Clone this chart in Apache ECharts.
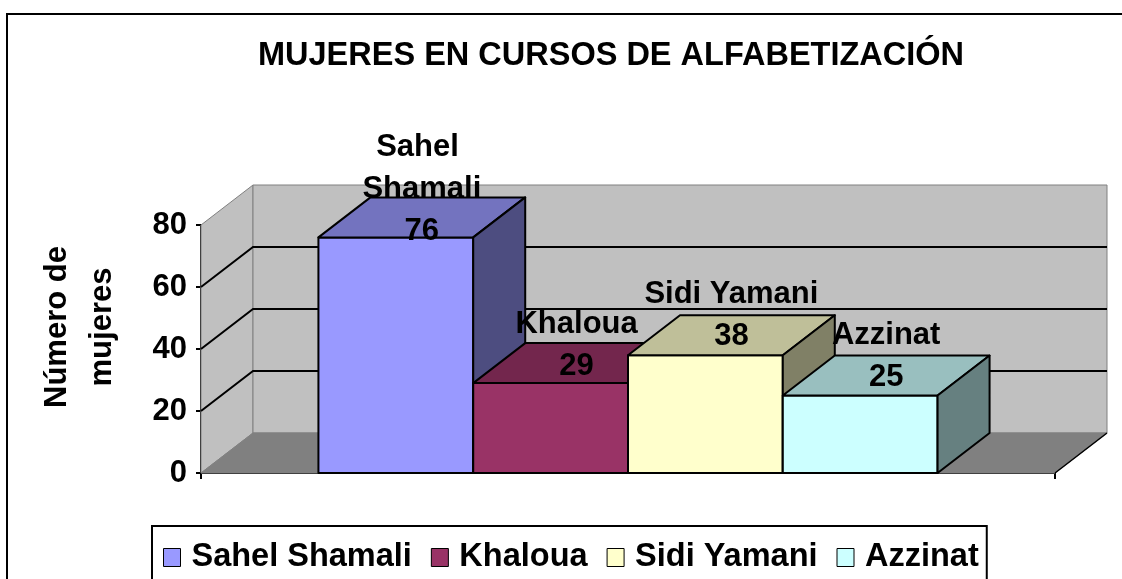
<!DOCTYPE html>
<html>
<head>
<meta charset="utf-8">
<style>
  html, body { margin: 0; padding: 0; background: #fff; }
  #main { width: 1122px; height: 579px; }
</style>
<script src="https://cdn.jsdelivr.net/npm/echarts@6/dist/echarts.min.js"></script>
</head>
<body>
<div id="main"></div>
<script>
const categories = ['Sahel Shamali', 'Khaloua', 'Sidi Yamani', 'Azzinat'];
const values = [76, 29, 38, 25];
const yTicks = [0, 20, 40, 60, 80];

const frontColors = ['#9999FF', '#993366', '#FFFFCC', '#CCFFFF'];
const topColors = ['#7373BF', '#73264D', '#BFBF99', '#99BFBF'];
const sideColors = ['#4D4D80', '#4D1A33', '#808066', '#668080'];
const labelDy = [15, 4, 2, 3]; // label nudges, excel pushed the first one down

const FONT = "'Liberation Sans', Arial, sans-serif";
const DX = 52, DY = -40; // 3d depth

const chart = echarts.init(document.getElementById('main'));

// walls, floor and gridlines of the 3d box
function renderWalls(params, api) {
  const cs = params.coordSys;
  const x0 = cs.x, x1 = cs.x + cs.width;
  const yb = api.coord([0, yTicks[0]])[1];
  const yt = api.coord([0, yTicks[yTicks.length - 1]])[1];
  const kids = [
    { type: 'polygon', shape: { points: [[x0, yb], [x0 + DX, yb + DY], [x0 + DX, yt + DY], [x0, yt]] },
      style: { fill: '#C0C0C0', stroke: '#808080', lineWidth: 1 } },
    { type: 'polygon', shape: { points: [[x0 + DX, yt + DY], [x1 + DX, yt + DY], [x1 + DX, yb + DY], [x0 + DX, yb + DY]] },
      style: { fill: '#C0C0C0', stroke: '#808080', lineWidth: 1 } },
    { type: 'polygon', shape: { points: [[x0, yb], [x0 + DX, yb + DY], [x1 + DX, yb + DY], [x1, yb]] },
      style: { fill: '#808080', stroke: '#808080', lineWidth: 1 } },
    { type: 'line', shape: { x1: x1, y1: yb, x2: x1 + DX, y2: yb + DY },
      style: { stroke: '#000', lineWidth: 1.5 } }
  ];
  yTicks.slice(1, -1).forEach(function (t) {
    const y = api.coord([0, t])[1];
    kids.push({ type: 'polyline', shape: { points: [[x0, y], [x0 + DX, y + DY], [x1 + DX, y + DY]] },
      style: { stroke: '#000', lineWidth: 2, fill: null } });
  });
  return { type: 'group', children: kids };
}

function makeBarRenderer(i) {
  return function (params, api) {
    const p = api.coord([0, api.value(1)]);
    const base = api.coord([0, 0]);
    const band = api.size([1, 0])[0];
    const groupW = band * 0.725;
    const bw = groupW / categories.length;
    const l = p[0] - groupW / 2 + i * bw, r = l + bw;
    const t = p[1], b = base[1];
    const edge = { stroke: '#000', lineWidth: 2, lineJoin: 'round' };
    return {
      type: 'group',
      children: [
        { type: 'polygon', z2: 10 + i, shape: { points: [[l, t], [r, t], [r, b], [l, b]] },
          style: Object.assign({ fill: frontColors[i] }, edge) },
        { type: 'polygon', z2: 10 + i, shape: { points: [[l, t], [r, t], [r + DX, t + DY], [l + DX, t + DY]] },
          style: Object.assign({ fill: topColors[i] }, edge) },
        { type: 'polygon', z2: 10 + i, shape: { points: [[r, t], [r + DX, t + DY], [r + DX, b + DY], [r, b]] },
          style: Object.assign({ fill: sideColors[i] }, edge) },
        { type: 'text', z2: 100,
          style: {
            x: l + bw / 2 + DX / 2, y: t + labelDy[i],
            text: categories[i] + '\n' + values[i],
            align: 'center', verticalAlign: 'bottom',
            width: 190, overflow: 'break', lineHeight: 42,
            font: 'bold 31px ' + FONT, fill: '#000'
          } }
      ]
    };
  };
}

const series = [{
  type: 'custom', name: '_walls', silent: true,
  renderItem: renderWalls, data: [[0, 0]], encode: { x: 0, y: 1 }
}];
categories.forEach(function (name, i) {
  series.push({
    type: 'custom', name: name,
    itemStyle: { color: frontColors[i] },
    renderItem: makeBarRenderer(i),
    data: [[0, values[i]]], encode: { x: 0, y: 1 }
  });
});

chart.setOption({
  animation: false,
  title: {
    text: 'MUJERES EN CURSOS DE ALFABETIZACIÓN',
    left: 253, top: 35,
    textStyle: { fontFamily: FONT, fontSize: 32.5, fontWeight: 'bold', color: '#000' }
  },
  legend: {
    data: categories,
    left: 152, top: 526,
    padding: [15, 8, 20, 11],
    itemGap: 19,
    itemWidth: 17, itemHeight: 18,
    icon: 'rect',
    borderColor: '#000', borderWidth: 2,
    itemStyle: { borderColor: '#000', borderWidth: 1 },
    textStyle: { fontFamily: FONT, fontSize: 32.5, fontWeight: 'bold', color: '#000', padding: [0, 0, 0, 6] }
  },
  grid: { left: 201, right: 67, top: 225, bottom: 106 },
  xAxis: {
    type: 'category', data: [''],
    axisLine: { lineStyle: { color: '#000', width: 2 } },
    axisTick: { show: true, length: 6, lineStyle: { color: '#000', width: 2 } },
    axisLabel: { show: false }
  },
  yAxis: {
    type: 'value', min: 0, max: 80, interval: 20,
    axisLine: { show: true, lineStyle: { color: '#000', width: 2 } },
    axisTick: { show: true, length: 5, lineStyle: { color: '#000', width: 2 } },
    splitLine: { show: false },
    axisLabel: { margin: 14, fontFamily: FONT, fontSize: 31, fontWeight: 'bold', color: '#000', padding: [8, 0, 0, 0] }
  },
  graphic: [
    { type: 'rect', x: 7, y: 14, shape: { width: 1200, height: 700 },
      style: { fill: 'none', stroke: '#000', lineWidth: 2 }, silent: true },
    { type: 'text', x: 80, y: 327, rotation: Math.PI / 2,
      style: { text: 'Número de\nmujeres', align: 'center', verticalAlign: 'middle',
        lineHeight: 45, font: 'bold 31px ' + FONT, fill: '#000' } }
  ],
  series: series
});
</script>
</body>
</html>
